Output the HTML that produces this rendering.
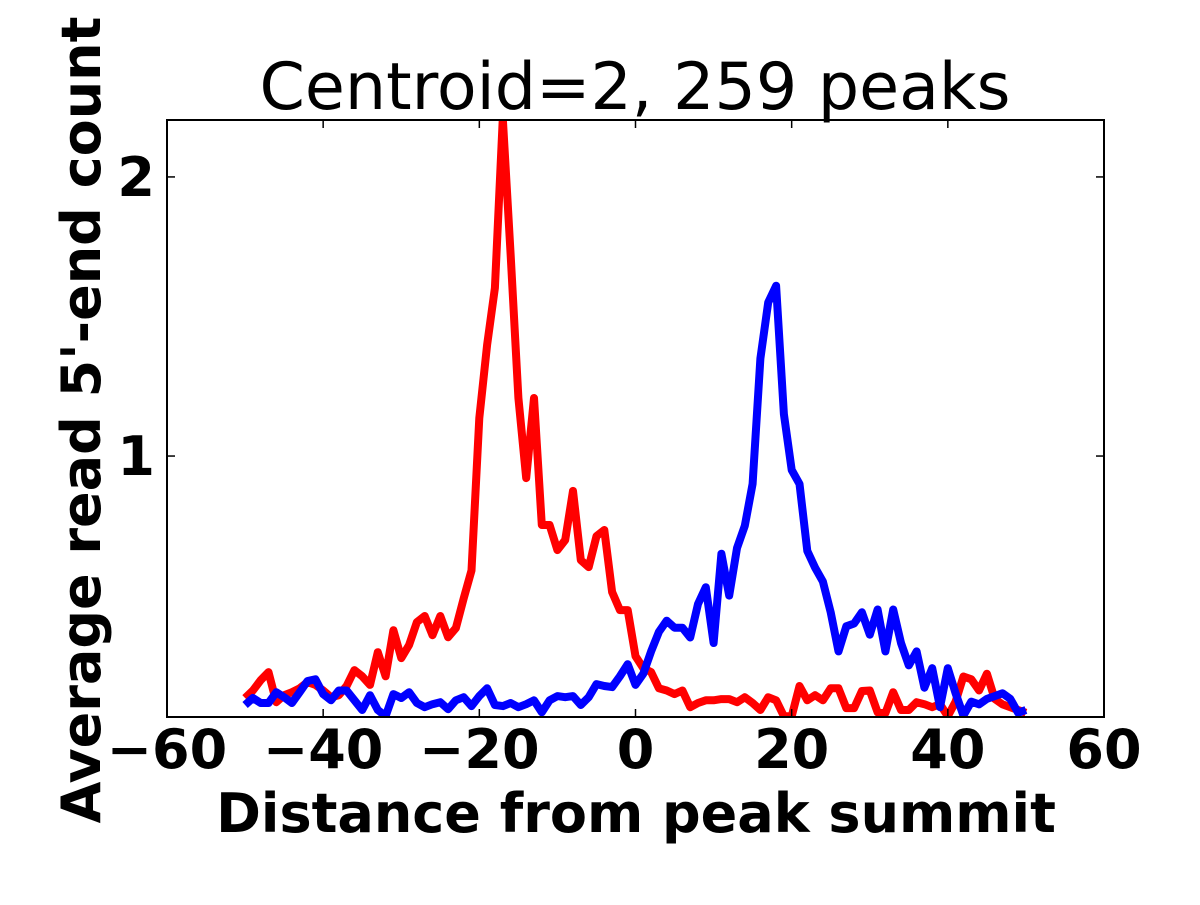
<!DOCTYPE html>
<html><head><meta charset="utf-8"><style>
body{margin:0;background:#fff;width:1200px;height:900px;overflow:hidden}
svg text{font-family:"DejaVu Sans","Liberation Sans",sans-serif}
</style></head><body>
<svg id="chart" width="1200" height="900" xmlns="http://www.w3.org/2000/svg"></svg>
<script>
const xValues=[];for(let i=-50;i<=50;i++)xValues.push(i);
const redSeries=[0.133,0.16,0.197,0.226,0.118,0.143,0.154,0.168,0.19,0.18,0.16,0.136,0.143,0.176,0.233,0.211,0.18,0.297,0.211,0.376,0.276,0.323,0.405,0.427,0.358,0.427,0.351,0.384,0.49,0.59,1.136,1.398,1.602,2.21,1.724,1.208,0.921,1.208,0.753,0.753,0.663,0.699,0.875,0.627,0.602,0.713,0.735,0.513,0.448,0.448,0.283,0.24,0.226,0.168,0.16,0.147,0.16,0.1,0.115,0.125,0.125,0.129,0.129,0.118,0.136,0.115,0.09,0.136,0.125,0.068,0.068,0.176,0.125,0.143,0.125,0.168,0.168,0.097,0.097,0.158,0.16,0.082,0.079,0.154,0.09,0.09,0.118,0.111,0.1,0.111,0.068,0.12,0.21,0.2,0.16,0.22,0.13,0.11,0.1,0.09,0.08];
const blueSeries=[0.108,0.133,0.115,0.115,0.154,0.136,0.115,0.154,0.194,0.2,0.147,0.125,0.16,0.16,0.125,0.09,0.143,0.09,0.068,0.147,0.133,0.154,0.115,0.1,0.111,0.118,0.093,0.125,0.136,0.104,0.14,0.168,0.108,0.104,0.115,0.1,0.111,0.125,0.082,0.125,0.14,0.136,0.14,0.108,0.136,0.183,0.176,0.172,0.211,0.254,0.18,0.22,0.3,0.37,0.41,0.385,0.385,0.35,0.47,0.53,0.33,0.65,0.5,0.67,0.75,0.9,1.35,1.55,1.61,1.15,0.95,0.9,0.66,0.6,0.55,0.44,0.3,0.39,0.4,0.44,0.36,0.45,0.3,0.45,0.33,0.25,0.3,0.17,0.24,0.1,0.24,0.15,0.07,0.12,0.11,0.13,0.14,0.15,0.13,0.08,0.09];
const xTicks=[-60,-40,-20,0,20,40,60];
const xTickLabels=["\u221260","\u221240","\u221220","0","20","40","60"];
const yTicks=[1,2];
const yTickLabels=["1","2"];
const L=167,R=1104,T=120,B=717,XMIN=-60,XMAX=60,YMIN=0.065,YMAX=2.204;
const sx=v=>L+(v-XMIN)/(XMAX-XMIN)*(R-L);
const sy=v=>B-(v-YMIN)/(YMAX-YMIN)*(B-T);
const svg=document.getElementById('chart');const NS="http://www.w3.org/2000/svg";
function mk(t,a,txt){const e=document.createElementNS(NS,t);for(const k in a)e.setAttribute(k,a[k]);if(txt!==undefined)e.textContent=txt;svg.appendChild(e);return e;}
const defs=mk('defs',{});const cp=document.createElementNS(NS,'clipPath');cp.setAttribute('id','clip');const cr=document.createElementNS(NS,'rect');cr.setAttribute('x',L);cr.setAttribute('y',T);cr.setAttribute('width',R-L);cr.setAttribute('height',B-T);cp.appendChild(cr);defs.appendChild(cp);
function line(vals,color,name){const d=vals.map((v,i)=>(i?'L':'M')+sx(xValues[i]).toFixed(1)+','+sy(v).toFixed(1)).join('');
const p=mk('path',{d:d,fill:'none',stroke:color,'stroke-width':8,'stroke-linejoin':'round','clip-path':'url(#clip)'});

}
line(redSeries,'#ff0000','red-series-line');
line(blueSeries,'#0000ff','blue-series-line');
const frame=mk('rect',{x:L,y:T,width:R-L,height:B-T,fill:'none',stroke:'#000','stroke-width':2});


xTicks.forEach((v,i)=>{const x=sx(v);
mk('line',{x1:x,x2:x,y1:B,y2:B-8,stroke:'#000','stroke-width':1.5});mk('line',{x1:x,x2:x,y1:T,y2:T+8,stroke:'#000','stroke-width':1.5});
const t=mk('text',{x:x,y:768,'text-anchor':'middle','font-size':54,'font-weight':'bold'},xTickLabels[i]);

});
yTicks.forEach((v,i)=>{const y=sy(v);
mk('line',{x1:L,x2:L+8,y1:y,y2:y,stroke:'#000','stroke-width':1.5});mk('line',{x1:R,x2:R-8,y1:y,y2:y,stroke:'#000','stroke-width':1.5});
const t=mk('text',{x:155,y:y+19,'text-anchor':'end','font-size':54,'font-weight':'bold'},yTickLabels[i]);

});
const title=mk('text',{x:635,y:109,'text-anchor':'middle','font-size':65},'Centroid=2, 259 peaks');


const xl=mk('text',{x:636,y:832,'text-anchor':'middle','font-size':54,'font-weight':'bold'},'Distance from peak summit');


const yl=mk('text',{x:0,y:0,'text-anchor':'middle','font-size':54,'font-weight':'bold',transform:'translate(100,420) rotate(-90)'},"Average read 5'-end count");


</script>
</body></html>
